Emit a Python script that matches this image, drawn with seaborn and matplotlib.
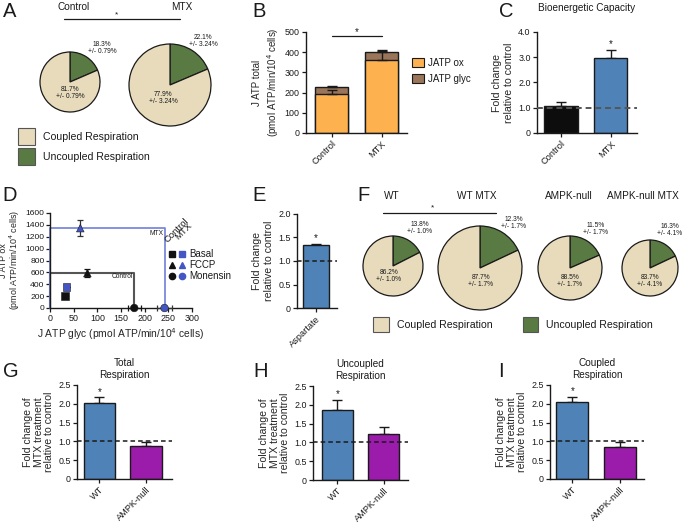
import numpy as np
import pandas as pd
import matplotlib
matplotlib.use('Agg')
import matplotlib.pyplot as plt
from matplotlib.patches import Rectangle
import seaborn as sns

# ---------------- data ----------------
# A: coupled / uncoupled respiration (drawn fractions + printed labels)
a_groups = ['Control', 'MTX']
a_uncoupled_drawn = [18.5, 18.6]
a_unc_lbl = ['18.3%\n+/- 0.79%', '22.1%\n+/- 3.24%']
a_cpl_lbl = ['81.7%\n+/- 0.79%', '77.9%\n+/- 3.24%']

# B: stacked J ATP
b_groups = ['Control', 'MTX']
b_jatp_ox = [192, 362]
b_jatp_glyc = [34, 38]
b_ox_err = [20, 45]
b_total_err = [6, 10]

# C: bioenergetic capacity
c_groups = ['Control', 'MTX']
c_fold = [1.05, 2.96]
c_err = [0.16, 0.33]

# D: J ATP ox vs J ATP glyc
d_treat = ['Basal', 'FCCP', 'Monensin']
d_glyc_ctrl = [32, 79, 178]
d_ox_ctrl = [198, 588, 0]
d_glyc_mtx = [35, 64, 242]
d_ox_mtx = [356, 1345, 0]
d_ox_err_ctrl = [0, 65, 0]
d_ox_err_mtx = [0, 135, 0]
d_glyc_err_ctrl = [0, 0, 14]
d_glyc_err_mtx = [0, 0, 16]

# E: aspartate
e_groups = ['Aspartate']
e_fold = [1.34]
e_err = [0.02]

# F: pies per genotype
f_groups = ['WT', 'WT MTX', 'AMPK-null', 'AMPK-null MTX']
f_uncoupled_drawn = [17.5, 18.0, 18.4, 18.0]
f_unc_lbl = ['13.8%\n+/- 1.0%', '12.3%\n+/- 1.7%', '11.5%\n+/- 1.7%', '16.3%\n+/- 4.1%']
f_cpl_lbl = ['86.2%\n+/- 1.0%', '87.7%\n+/- 1.7%', '88.5%\n+/- 1.7%', '83.7%\n+/- 4.1%']

# G/H/I: fold change of MTX treatment
ghi_groups = ['WT', 'AMPK-null']
g_total = [2.03, 0.89]
g_err = [0.14, 0.10]
h_uncoupled = [1.87, 1.23]
h_err = [0.27, 0.18]
i_coupled = [2.06, 0.86]
i_err = [0.13, 0.13]

# ---------------- style ----------------
sns.set_style('ticks')
plt.rcParams['font.family'] = ['Liberation Sans', 'DejaVu Sans']
plt.rcParams['axes.linewidth'] = 1.0
plt.rcParams['axes.edgecolor'] = '#1a1a1a'
plt.rcParams['text.color'] = '#1a1a1a'

BEIGE = '#E7DBBC'
GREEN = '#5A7A44'
ORANGE = '#FDB24F'
BROWN = '#9A7559'
BLUE = '#4F83B8'
PURPLE = '#9B1BAA'
DBLUE = '#4455C4'
LBLUE = '#6F80DA'
EDGE = '#1a1a1a'
TICK = 6.4
LAB = 7.0
XLAB = 6.7

W, H = 685, 523
fig = plt.figure(figsize=(W / 100, H / 100), dpi=100)


def px_axes(x0, y0, x1, y1):
    return fig.add_axes([x0 / W, 1 - y1 / H, (x1 - x0) / W, (y1 - y0) / H])


def style(ax):
    sns.despine(ax=ax)
    ax.tick_params(labelsize=TICK, length=3, width=0.9, pad=1.5, colors=EDGE)


def rot_labels(ax):
    for t in ax.get_xticklabels():
        t.set_rotation(45)
        t.set_ha('right')
        t.set_rotation_mode('anchor')
        t.set_fontsize(XLAB)


def fold_bars(ax, groups, vals, errs, colors, width, xlim):
    sns.barplot(x=groups, y=vals, hue=groups, palette=colors, width=width, saturation=1,
                edgecolor=EDGE, linewidth=1, legend=False, ax=ax, zorder=2)
    ax.errorbar(range(len(groups)), vals, yerr=[np.zeros(len(errs)), errs],
                fmt='none', ecolor=EDGE, elinewidth=1, capsize=3.5, capthick=1, zorder=1)
    ax.set_xlim(*xlim)
    ax.set_xlabel('')
    style(ax)
    rot_labels(ax)


def draw_pie(cx, cy, r, unc):
    k = 1.05
    ax = px_axes(cx - r * k, cy - r * k, cx + r * k, cy + r * k)
    ax.pie([unc, 100 - unc], colors=[GREEN, BEIGE], startangle=90, counterclock=False,
           wedgeprops=dict(edgecolor=EDGE, linewidth=0.9))
    ax.set_xlim(-k, k)
    ax.set_ylim(-k, k)
    ax.axis('off')


# ---------------- A ----------------
for (cx, cy, r), unc in zip([(70, 82, 30), (170, 85, 41)], a_uncoupled_drawn):
    draw_pie(cx, cy, r, unc)

# ---------------- B ----------------
axb = px_axes(306, 32, 407, 133)
b_total = np.array(b_jatp_ox) + np.array(b_jatp_glyc)
sns.barplot(x=b_groups, y=b_total, color=BROWN, width=0.66, edgecolor=EDGE, saturation=1,
            linewidth=1, ax=axb, zorder=2)
sns.barplot(x=b_groups, y=b_jatp_ox, color=ORANGE, width=0.66, edgecolor=EDGE, saturation=1,
            linewidth=1, ax=axb, zorder=2)
axb.errorbar([0, 1], b_jatp_ox, yerr=[[0, 0], b_ox_err], fmt='none', ecolor=EDGE,
             elinewidth=1, capsize=3.5, capthick=1, zorder=3)
axb.errorbar([0, 1], b_total, yerr=[[0, 0], b_total_err], fmt='none', ecolor=EDGE,
             elinewidth=1, capsize=3.5, capthick=1, zorder=3)
axb.set_ylim(0, 500)
axb.set_yticks(range(0, 501, 100))
axb.set_xlim(-0.51, 1.51)
axb.set_ylabel('J ATP total\n(pmol ATP/min/10$^4$ cells)', fontsize=LAB, labelpad=3)
style(axb)
rot_labels(axb)
axb.plot([0, 1], [480, 480], color=EDGE, lw=0.9, clip_on=False)
axb.text(0.5, 500, '*', ha='center', va='center', fontsize=7, clip_on=False)

# ---------------- C ----------------
axc = px_axes(537, 32, 637, 133)
fold_bars(axc, c_groups, c_fold, c_err, ['#0d0d0d', BLUE], 0.68, (-0.485, 1.535))
axc.axhline(1.0, ls=(0, (3, 2)), color='#555555', lw=1.4, zorder=4)
axc.set_ylim(0, 4)
axc.set_yticks([0, 1, 2, 3, 4], ['0', '1.0', '2.0', '3.0', '4.0'])
axc.set_ylabel('Fold change\nrelative to control', fontsize=LAB + 0.6, labelpad=3)
axc.text(1, c_fold[1] + c_err[1] + 0.25, '*', ha='center', va='center', fontsize=7)
axc.set_title('Bioenergetic Capacity', fontsize=7.2, pad=15)

# ---------------- D ----------------
axd = px_axes(50, 213, 192, 308)
d_df = pd.DataFrame({
    'glyc': d_glyc_ctrl + d_glyc_mtx,
    'ox': d_ox_ctrl + d_ox_mtx,
    'group': ['Control'] * 3 + ['MTX'] * 3,
    'treat': d_treat * 2,
})
axd.plot([0, 0, d_glyc_ctrl[2], d_glyc_ctrl[2]], [0, d_ox_ctrl[1], d_ox_ctrl[1], 0],
         color='#555555', lw=1.5, zorder=2, clip_on=False)
axd.plot([0, 0, d_glyc_mtx[2], d_glyc_mtx[2]], [0, d_ox_mtx[1], d_ox_mtx[1], 0],
         color=LBLUE, lw=1.2, zorder=2, clip_on=False)
for gx, oy, ex, ey, col in [(d_glyc_ctrl, d_ox_ctrl, d_glyc_err_ctrl, d_ox_err_ctrl, '#111111'),
                            (d_glyc_mtx, d_ox_mtx, d_glyc_err_mtx, d_ox_err_mtx, '#333333')]:
    axd.errorbar(gx, oy, xerr=ex, yerr=ey, fmt='none', ecolor=col, elinewidth=0.9,
                 capsize=2.5, capthick=0.9, zorder=3, clip_on=False)
sns.scatterplot(data=d_df, x='glyc', y='ox', hue='group', style='treat',
                markers={'Basal': 's', 'FCCP': '^', 'Monensin': 'o'},
                palette={'Control': '#111111', 'MTX': DBLUE}, s=30, edgecolor=EDGE,
                linewidth=0.4, legend=False, ax=axd, zorder=5, clip_on=False)
axd.set_xlim(0, 300)
axd.set_ylim(0, 1600)
axd.set_xticks(range(0, 301, 50))
axd.set_yticks(range(0, 1601, 200))
axd.set_xlabel('J ATP glyc (pmol ATP/min/10$^4$ cells)', fontsize=LAB + 0.4, labelpad=2)
axd.set_ylabel('J ATP ox\n(pmol ATP/min/10$^4$ cells)', fontsize=6.4, linespacing=1.0)
style(axd)
axd.tick_params(axis='y', pad=1, labelsize=6.1)
axd.yaxis.set_label_coords(-0.195, 0.5)
axd.text(226, 1260, 'MTX', ha='center', va='center', fontsize=4.8)
axd.text(152, 537, 'Control', ha='center', va='center', fontsize=4.8)

# ---------------- E ----------------
axe = px_axes(297, 214, 337, 308)
fold_bars(axe, e_groups, e_fold, e_err, [BLUE], 0.8, (-0.585, 0.646))
axe.axhline(1.0, ls=(0, (3, 2)), color=EDGE, lw=1.1, zorder=4)
axe.set_ylim(0, 2)
axe.set_yticks([0, 0.5, 1, 1.5, 2], ['0', '0.5', '1.0', '1.5', '2.0'])
axe.set_ylabel('Fold change\nrelative to control', fontsize=LAB + 0.6, labelpad=3)
axe.text(0, 1.49, '*', ha='center', va='center', fontsize=7)

# ---------------- F ----------------
f_pos = [(393, 266, 30), (480, 268, 42), (570, 268, 32), (650, 268, 28)]
for (cx, cy, r), unc in zip(f_pos, f_uncoupled_drawn):
    draw_pie(cx, cy, r, unc)

# ---------------- G / H / I ----------------
ghi = [
    ('Total\nRespiration', g_total, g_err, (77, 385, 172, 479), (-0.48, 1.56)),
    ('Uncoupled\nRespiration', h_uncoupled, h_err, (313, 386, 408, 480), (-0.53, 1.53)),
    ('Coupled\nRespiration', i_coupled, i_err, (550, 385, 644, 479), (-0.47, 1.50)),
]
for title, vals, errs, box, xl in ghi:
    ax = px_axes(*box)
    fold_bars(ax, ghi_groups, vals, errs, [BLUE, PURPLE], 0.67, xl)
    ax.axhline(1.0, ls=(0, (3, 2)), color=EDGE, lw=1.1, zorder=4)
    ax.set_ylim(0, 2.5)
    ax.set_yticks([0, 0.5, 1, 1.5, 2, 2.5], ['0', '0.5', '1.0', '1.5', '2.0', '2.5'])
    ax.set_ylabel('Fold change of\nMTX treatment\nrelative to control', fontsize=LAB + 0.6,
                  labelpad=3, linespacing=1.05)
    ax.set_title(title, fontsize=7.2, pad=5, linespacing=1.2)
    ax.text(0, vals[0] + errs[0] + 0.15, '*', ha='center', va='center', fontsize=7)

# ---------------- overlay: letters, legends, annotations ----------------
ov = fig.add_axes([0, 0, 1, 1], zorder=10)
ov.set_xlim(0, W)
ov.set_ylim(H, 0)
ov.axis('off')

for s, x, y in [('A', 3, 2), ('B', 252, 2), ('C', 499, 2), ('D', 2, 186), ('E', 252, 186),
                ('F', 357, 186), ('G', 3, 362), ('H', 253, 362), ('I', 498, 362)]:
    ov.text(x, y, s, fontsize=14.5, ha='left', va='top')

# A texts
for name, x in zip(a_groups, [74, 182]):
    ov.text(x, 7, name, fontsize=7.2, ha='center', va='center')
ov.plot([64, 180], [19, 19], color=EDGE, lw=0.9)
ov.text(117, 15, '*', fontsize=6, ha='center', va='center')
for s, (x, y) in zip(a_unc_lbl, [(102, 48), (203, 41)]):
    ov.text(x, y, s, fontsize=4.8, ha='center', va='center', linespacing=1.1)
for s, (x, y) in zip(a_cpl_lbl, [(70, 93), (163, 98)]):
    ov.text(x, y, s, fontsize=4.8, ha='center', va='center', linespacing=1.1)
for (y, col, lbl) in [(128, BEIGE, 'Coupled Respiration'), (148, GREEN, 'Uncoupled Respiration')]:
    ov.add_patch(Rectangle((18, y), 17, 17, facecolor=col, edgecolor='#555555', lw=0.8))
    ov.text(43, y + 8.5, lbl, fontsize=7.6, ha='left', va='center')

# B legend
for (y, col, lbl) in [(58, ORANGE, 'JATP ox'), (74, BROWN, 'JATP glyc')]:
    ov.add_patch(Rectangle((412, y), 12, 8.5, facecolor=col, edgecolor=EDGE, lw=0.8))
    ov.text(428, y + 4.5, lbl, fontsize=7, ha='left', va='center')

# D legend
ov.text(169, 244, 'Control', fontsize=6.8, rotation=45, ha='left', va='bottom', rotation_mode='anchor')
ov.text(180, 241, 'MTX', fontsize=6.8, rotation=45, ha='left', va='bottom', rotation_mode='anchor')
for y, m, lbl in [(254, 's', 'Basal'), (265, '^', 'FCCP'), (276, 'o', 'Monensin')]:
    ov.plot([172], [y], marker=m, ms=4.5, color='#111111', ls='none')
    ov.plot([182], [y], marker=m, ms=4.5, color=DBLUE, ls='none')
    ov.text(189, y, lbl, fontsize=7, ha='left', va='center')

# F texts
for name, x in zip(f_groups, [392, 477, 569, 643]):
    ov.text(x, 196, name, fontsize=7.2, ha='center', va='center')
ov.plot([383, 496], [213, 213], color=EDGE, lw=0.9)
ov.text(433, 208, '*', fontsize=6, ha='center', va='center')
for s, (x, y) in zip(f_unc_lbl, [(420, 228), (514, 223), (596, 229), (670, 230)]):
    ov.text(x, y, s, fontsize=4.8, ha='center', va='center', linespacing=1.1)
for s, (x, y) in zip(f_cpl_lbl, [(389, 276), (481, 281), (570, 281), (650, 281)]):
    ov.text(x, y, s, fontsize=4.8, ha='center', va='center', linespacing=1.1)
ov.add_patch(Rectangle((373, 317), 16, 15, facecolor=BEIGE, edgecolor='#555555', lw=0.8))
ov.text(397, 324.5, 'Coupled Respiration', fontsize=7.6, ha='left', va='center')
ov.add_patch(Rectangle((523, 317), 15, 15, facecolor=GREEN, edgecolor='#555555', lw=0.8))
ov.text(546, 324.5, 'Uncoupled Respiration', fontsize=7.6, ha='left', va='center')

fig.savefig('out.png', dpi=100)
